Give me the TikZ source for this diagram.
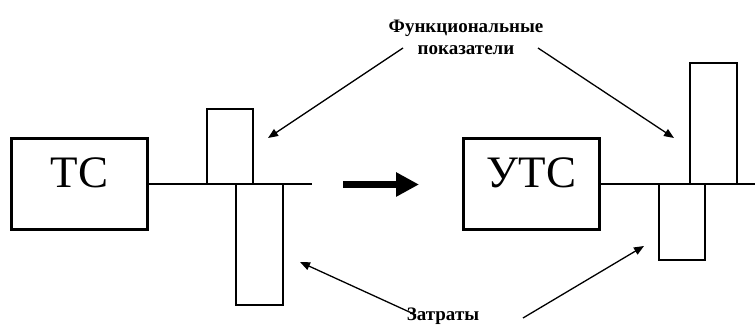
\documentclass[tikz,border=0pt]{standalone}
\usepackage{fontspec}
\setmainfont{Liberation Serif}
\usetikzlibrary{arrows.meta}
\usetikzlibrary{positioning}

\tikzset{
  sysbox/.style={draw,line width=3pt,minimum width=136pt,minimum height=91pt,
    font=\fontsize{45}{45}\selectfont,text height=30pt,text depth=23pt},
  bar/.style={line width=1.3pt},
  pointer/.style={-{Triangle[length=10pt,width=8pt]},line width=1.3pt},
  caption/.style={font=\fontsize{19}{22}\selectfont\bfseries,align=center}
}

\begin{document}
\begin{tikzpicture}[line join=miter,x=1pt,y=-1pt]
\useasboundingbox (0,0) rectangle (755,328);
% systems
\node [sysbox] (ts) at (79.5,184.5) {ТС};
\node [sysbox] (uts) at (531.5,184.5) {УТС};
% axes
\coordinate (tsend) at (312,184);
\coordinate (utsend) at (755,184);
\draw [bar] (ts.east |- tsend) -- (tsend);
\draw [bar] (uts.east |- utsend) -- (utsend);
% bars
\draw [bar] (207,184) rectangle (253,109);
\draw [bar] (236,184) rectangle (283,305);
\draw [bar] (690,184) rectangle (737,63);
\draw [bar] (659,184) rectangle (705,260);
% transition
\coordinate (go1) at (343,184.5);
\coordinate (go2) at (419,184.5);
\draw [-{Triangle[length=23pt,width=23pt]},line width=7pt] (go1) -- (go2);
% labels
\node [caption] (fp) at (466,37) {Функциональные\\показатели};
\node [caption,anchor=base] (cost) at (443,321) {Затраты};
\coordinate (fp1) at (403,48);
\coordinate (fp2) at (538,48);
\coordinate (cost1) at (416,315);
\coordinate (cost2) at (523,318);
\coordinate (tip1) at (268,138);
\coordinate (tip2) at (674,138);
\coordinate (tip3) at (300,262);
\coordinate (tip4) at (644,246);
\draw [pointer] (fp1) -- (tip1);
\draw [pointer] (fp2) -- (tip2);
\draw [pointer] (cost1) -- (tip3);
\draw [pointer] (cost2) -- (tip4);
\end{tikzpicture}
\end{document}
